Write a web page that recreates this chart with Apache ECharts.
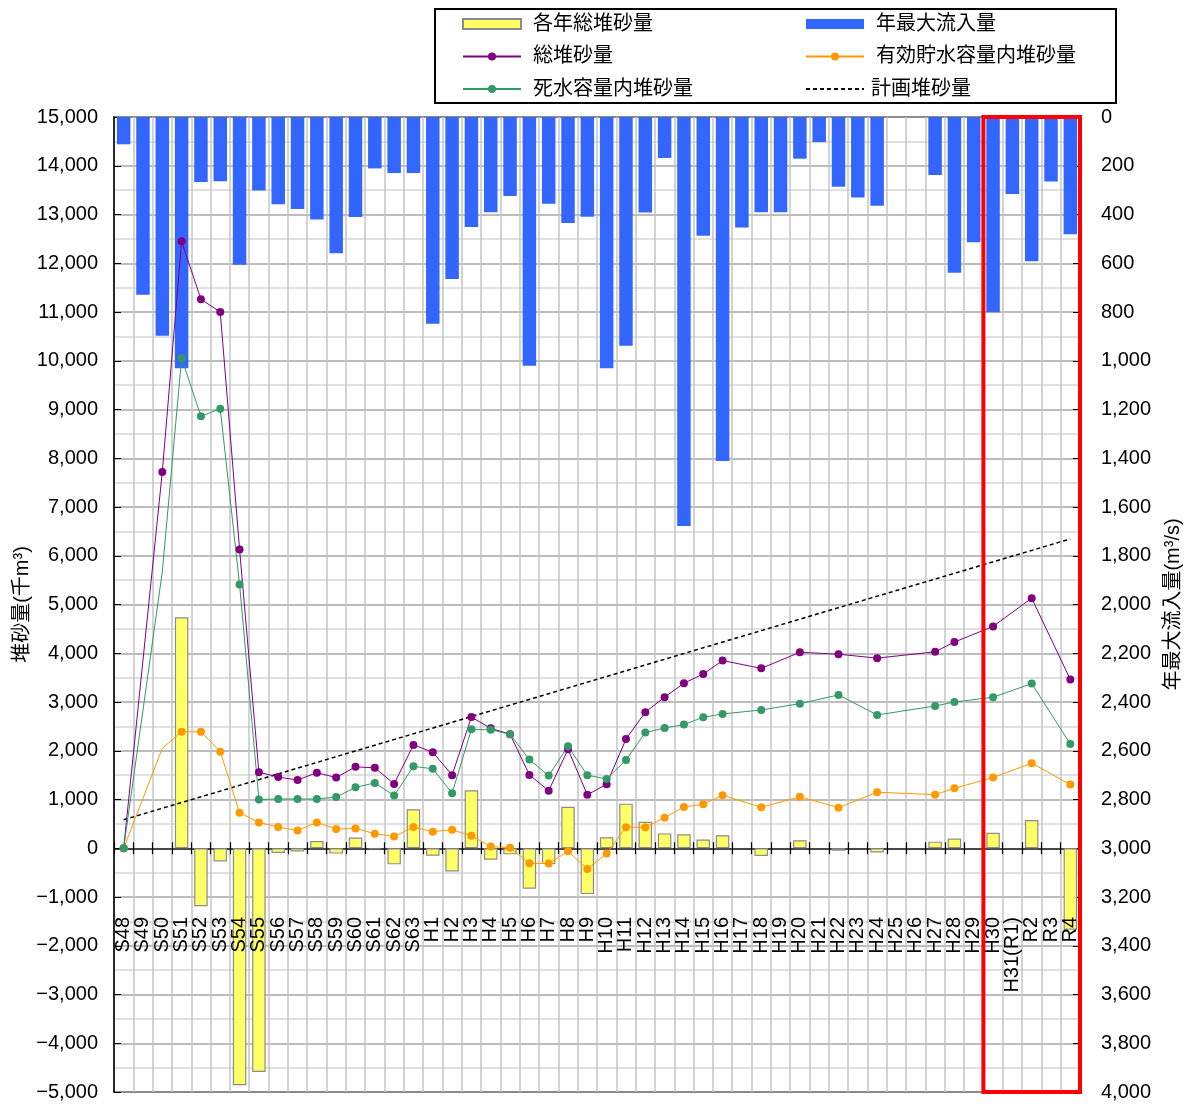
<!DOCTYPE html>
<html>
<head>
<meta charset="utf-8">
<script src="https://cdn.jsdelivr.net/npm/echarts@6/dist/echarts.min.js"></script>
<style>
  html, body { margin: 0; padding: 0; background: #fff; }
  #main { width: 1191px; height: 1106px; }
</style>
</head>
<body>
<div id="main"></div>
<script>
// 年度（昭和・平成・令和）
const categories = [
  'S48','S49','S50','S51','S52','S53','S54','S55','S56','S57','S58','S59','S60','S61','S62','S63',
  'H1','H2','H3','H4','H5','H6','H7','H8','H9','H10','H11','H12','H13','H14','H15','H16','H17','H18',
  'H19','H20','H21','H22','H23','H24','H25','H26','H27','H28','H29','H30','H31(R1)','R2','R3','R4'
];

// 各年総堆砂量（千m3）
const yearlyDeposit = [
  null, null, null, 4740, -1190, -270, -4860, -4590, -95, -65, 150, -110, 220, -20, -330, 800,
  -155, -475, 1190, -235, -125, -830, -325, 850, -940, 225, 915, 545, 305, 285, 180, 265, null, -160,
  null, 165, null, -50, null, -85, null, null, 135, 200, null, 318, null, 580, null, -1670
];

// 年最大流入量（m3/s）
const maxInflow = [
  112, 729, 897, 1031, 267, 264, 606, 302, 358, 377, 421, 559, 410, 211, 230, 230,
  848, 665, 451, 391, 324, 1020, 356, 435, 409, 1031, 938, 392, 168, 1678, 487, 1411, 453, 391,
  391, 171, 103, 286, 330, 364, null, null, 238, 639, 514, 801, 316, 592, 265, 481
];

// 総堆砂量（千m3）
const totalDeposit = [
  0, null, 7720, 12450, 11260, 11000, 6130, 1560, 1460, 1400, 1550, 1450, 1670, 1650, 1320, 2120,
  1970, 1500, 2690, 2460, 2340, 1505, 1180, 2030, 1095, 1315, 2240, 2790, 3100, 3385, 3575, 3850, null, 3690,
  null, 4020, null, 3980, null, 3900, null, null, 4030, 4230, null, 4550, null, 5130, null, 3460
];

// 有効貯水容量内堆砂量（千m3）
const effectiveDeposit = [
  0, null, 2050, 2390, 2390, 1980, 730, 530, 435, 365, 530, 395, 405, 300, 240, 435,
  340, 380, 255, 35, 12, -308, -315, -62, -425, -110, 430, 430, 628, 847, 903, 1087, null, 841,
  null, 1056, null, 833, null, 1149, null, null, 1100, 1231, null, 1450, null, 1745, null, 1306
];

// 死水容量内堆砂量（千m3）
const deadDeposit = [
  0, null, 5670, 10055, 8860, 9015, 5410, 1000, 1010, 1010, 1010, 1050, 1250, 1340, 1080, 1680,
  1630, 1130, 2440, 2430, 2338, 1818, 1490, 2092, 1497, 1422, 1811, 2372, 2467, 2536, 2687, 2755, null, 2837,
  null, 2966, null, 3145, null, 2734, null, null, 2918, 3000, null, 3097, null, 3378, null, 2138
];

// 計画堆砂量（始点・終点）
const plannedStart = ['S48', 585];
const plannedEnd = ['R4', 6345];

// 左軸・右軸の範囲
const leftAxisRange = [-5000, 15000, 1000];
const rightAxisRange = [0, 4000, 200];

// S50 は調査年でないため、死水・有効の点はマーカーなしで描く
const noMarkerCategories = ['S50'];

const FONT = "'Liberation Sans', 'Noto Sans CJK JP', sans-serif";

function fmtNumber(v) {
  const s = Math.abs(v).toLocaleString('en-US');
  return v < 0 ? '\u2212' + s : s;
}

function withMarkerRule(values) {
  return values.map((v, i) =>
    (v !== null && noMarkerCategories.includes(categories[i])) ? { value: v, symbol: 'none' } : v);
}

const chart = echarts.init(document.getElementById('main'), null, { renderer: 'canvas' });

const lineCommon = {
  type: 'line',
  yAxisIndex: 0,
  connectNulls: true,
  symbol: 'circle',
  symbolSize: 8,
  z: 5
};

const legendCommon = {
  orient: 'vertical', top: 9, itemGap: 12.5,
  itemWidth: 58, itemHeight: 10,
  textStyle: { fontSize: 20, color: '#000', fontFamily: FONT, padding: [0, 0, 0, 7] }
};

// 0 の位置に引く横軸（上下に目盛を出すため 2 本重ねる）
function zeroAxis(inside) {
  return {
    type: 'category',
    data: categories,
    boundaryGap: true,
    position: 'bottom',
    axisLine: { show: true, onZero: true, onZeroAxisIndex: 0, lineStyle: { color: '#404040', width: 1.5 } },
    axisTick: { show: true, interval: 0, inside: inside, length: 6, lineStyle: { color: '#000', width: 1.2 } },
    axisLabel: { show: false },
    splitLine: { show: false }
  };
}

const option = {
  animation: false,
  backgroundColor: '#fff',
  textStyle: { fontFamily: FONT },
  grid: {
    left: 114, right: 111, top: 117, bottom: 14,
    containLabel: false, outerBoundsMode: 'none',
    show: true, borderColor: '#000', borderWidth: 1.5, backgroundColor: 'transparent'
  },
  legend: [
    Object.assign({}, legendCommon, {
      left: 457,
      data: [{ name: '各年総堆砂量', icon: 'rect' }, '総堆砂量', '死水容量内堆砂量']
    }),
    Object.assign({}, legendCommon, {
      left: 800,
      data: [
        { name: '年最大流入量', icon: 'rect' },
        '有効貯水容量内堆砂量',
        {
          name: '計画堆砂量',
          itemStyle: { color: 'rgba(0,0,0,0)', borderWidth: 0, opacity: 0 },
          textStyle: { padding: [0, 0, 0, 2] }
        }
      ]
    })
  ],
  xAxis: [
    {
      // 縦の目盛線（棒の背面）
      type: 'category',
      data: categories,
      boundaryGap: true,
      position: 'bottom',
      axisLine: { show: false, onZero: false },
      axisTick: { show: false },
      axisLabel: { show: false },
      splitLine: { show: true, interval: 0, lineStyle: { color: '#c4c4c4', width: 1.5 } }
    },
    zeroAxis(true),
    zeroAxis(false),
    {
      // 年度ラベル（棒の前面）
      type: 'category',
      data: categories,
      boundaryGap: true,
      position: 'bottom',
      z: 20,
      axisLine: { show: false, onZero: false },
      axisTick: { show: false },
      axisLabel: { interval: 0, rotate: 90, margin: -175, fontSize: 20, color: '#000', fontFamily: FONT },
      splitLine: { show: false }
    }
  ],
  yAxis: [
    {
      type: 'value',
      position: 'left',
      min: leftAxisRange[0], max: leftAxisRange[1], interval: leftAxisRange[2],
      name: '堆砂量(千m³)',
      nameLocation: 'middle', nameRotate: 90, nameGap: 82, nameMoveOverlap: false,
      nameTextStyle: { fontSize: 20, color: '#000', fontFamily: FONT },
      axisLine: { show: true, lineStyle: { color: '#000', width: 1.5 } },
      axisTick: { show: true, inside: true, length: 7, lineStyle: { color: '#000' } },
      axisLabel: { fontSize: 20, color: '#000', margin: 16, fontFamily: FONT, formatter: fmtNumber },
      splitLine: { show: true, lineStyle: { color: '#a6a6a6', width: 1.5 } },
      minorTick: { show: false, splitNumber: 2 },
      minorSplitLine: { show: true, lineStyle: { color: '#d6d6d6', width: 1.5 } }
    },
    {
      type: 'value',
      position: 'right',
      inverse: true,
      min: rightAxisRange[0], max: rightAxisRange[1], interval: rightAxisRange[2],
      name: '年最大流入量(m³/s)',
      nameLocation: 'middle', nameRotate: 90, nameGap: 83,
      nameTextStyle: { fontSize: 20, color: '#000', fontFamily: FONT },
      axisLine: { show: true, lineStyle: { color: '#000', width: 1.5 } },
      axisTick: { show: true, inside: true, length: 7, lineStyle: { color: '#000' } },
      axisLabel: { fontSize: 20, color: '#000', margin: 21, fontFamily: FONT, formatter: fmtNumber },
      splitLine: { show: false }
    }
  ],
  series: [
    {
      name: '各年総堆砂量',
      type: 'bar',
      yAxisIndex: 0,
      data: yearlyDeposit,
      barWidth: 13.5,
      barGap: '-100%',
      itemStyle: { color: '#ffff66', borderColor: '#8c8c8c', borderWidth: 1.2 },
      z: 3
    },
    {
      name: '年最大流入量',
      type: 'bar',
      yAxisIndex: 1,
      data: maxInflow,
      barWidth: 13.5,
      barGap: '-100%',
      itemStyle: { color: '#3366ff' },
      z: 2
    },
    Object.assign({}, lineCommon, {
      name: '総堆砂量',
      data: totalDeposit,
      itemStyle: { color: '#800080' },
      lineStyle: { color: '#800080', width: 1 }
    }),
    Object.assign({}, lineCommon, {
      name: '有効貯水容量内堆砂量',
      data: withMarkerRule(effectiveDeposit),
      itemStyle: { color: '#ff9900' },
      lineStyle: { color: '#ff9900', width: 1 }
    }),
    Object.assign({}, lineCommon, {
      name: '死水容量内堆砂量',
      data: withMarkerRule(deadDeposit),
      itemStyle: { color: '#339966' },
      lineStyle: { color: '#339966', width: 1 }
    }),
    {
      name: '計画堆砂量',
      type: 'line',
      yAxisIndex: 0,
      data: [plannedStart, plannedEnd],
      symbol: 'none',
      itemStyle: { color: '#000' },
      lineStyle: { color: '#000', width: 1.5, type: [4, 3] },
      z: 4
    }
  ]
};

chart.setOption(option);

// 凡例枠と、H30〜R4 を囲む赤枠
function drawFrames() {
  const xa = chart.convertToPixel({ xAxisIndex: 0 }, 'H29');
  const xb = chart.convertToPixel({ xAxisIndex: 0 }, 'H30');
  const xLast = chart.convertToPixel({ xAxisIndex: 0 }, 'R4');
  const band = xb - xa;
  const left = (xa + xb) / 2;
  const right = xLast + band / 2;
  const top = chart.convertToPixel({ yAxisIndex: 0 }, leftAxisRange[1]);
  const bottom = chart.convertToPixel({ yAxisIndex: 0 }, leftAxisRange[0]);
  chart.setOption({
    graphic: [
      {
        type: 'rect', left: 434, top: 8, z: 0,
        shape: { width: 681, height: 94 },
        style: { fill: '#fff', stroke: '#000', lineWidth: 2 }
      },
      {
        type: 'rect', z: 100,
        shape: { x: left, y: top, width: right - left, height: bottom - top },
        style: { fill: 'none', stroke: '#ff0000', lineWidth: 4 }
      }
    ]
  });
}
drawFrames();
</script>
</body>
</html>
